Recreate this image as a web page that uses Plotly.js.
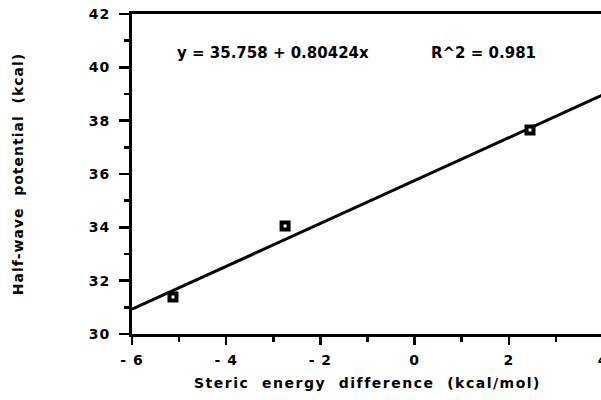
<!DOCTYPE html>
<html>
<head>
<meta charset="utf-8">
<script src="https://cdn.plot.ly/plotly-3.0.1.min.js"></script>
<style>
  html, body { margin: 0; padding: 0; background: #fff; overflow: hidden; }
  #chart { width: 606px; height: 400px; }
  .xtick text, .ytick text { letter-spacing: 1px; }
  text.xtitle { letter-spacing: 1.5px; }
  text.ytitle { letter-spacing: 1px; }
</style>
</head>
<body>
<div id="chart"></div>
<script>
// Observed data points (steric energy difference vs half-wave potential)
const stericDiff = [-5.13, -2.75, 2.45];
const halfWave = [31.39, 34.05, 37.65];

// Fitted regression line endpoints (y = 35.758 + 0.80424x)
const fitX = [-6, 4];
const fitY = [30.93, 38.97];

// Tick labels
const xTickVals = [-6, -4, -2, 0, 2, 4];
const xTickText = ["- 6", "- 4", "- 2", "0", "2", "4"];
const yTickVals = [30, 32, 34, 36, 38, 40, 42];
const yTickText = ["30", "32", "34", "36", "38", "40", "42"];

const NB = "\u00A0";
const GAP = NB + NB;
const eqText = "y" + NB + "=" + NB + "35.758" + NB + "+" + NB + "0.80424x";
const r2Text = "R^2" + NB + "=" + NB + "0.981";

const traces = [
  {
    x: fitX, y: fitY, mode: "lines", type: "scatter",
    line: { color: "#000", width: 3 }, hoverinfo: "skip", showlegend: false
  },
  {
    x: stericDiff, y: halfWave, mode: "markers", type: "scatter",
    marker: { symbol: "square", size: 7, color: "#fff", line: { color: "#000", width: 4 } },
    showlegend: false, cliponaxis: false
  }
];

const FAM = "DejaVu Sans, Liberation Sans, Arial, sans-serif";
const tickFont = { family: FAM, size: 14, color: "#000", weight: "bold" };
const annFont = { family: FAM, size: 15, color: "#000", weight: "bold" };
const titleFont = { family: FAM, size: 14, color: "#000", weight: "bold" };

const layout = {
  width: 606, height: 400,
  margin: { l: 132, r: 3, t: 14, b: 66 },
  paper_bgcolor: "#fff", plot_bgcolor: "#fff",
  showlegend: false,
  xaxis: {
    range: [-6, 4], showgrid: false, zeroline: false,
    showline: true, linewidth: 3, linecolor: "#000", mirror: true,
    ticks: "outside", ticklen: 8, tickwidth: 2.5, tickcolor: "#000",
    tickvals: xTickVals, ticktext: xTickText, tickfont: tickFont,
    ticklabeloverflow: "allow", ticklabelstandoff: 3,
    minor: { dtick: 1, ticks: "outside", ticklen: 5, tickwidth: 2.5, tickcolor: "#000", showgrid: false },
    title: { text: "Steric" + GAP + "energy" + GAP + "difference" + GAP + "(kcal/mol)", font: titleFont, standoff: 12 }
  },
  yaxis: {
    range: [30, 42], showgrid: false, zeroline: false,
    showline: true, linewidth: 3, linecolor: "#000",
    ticks: "outside", ticklen: 10, tickwidth: 2.5, tickcolor: "#000",
    tickvals: yTickVals, ticktext: yTickText, tickfont: tickFont,
    ticklabelstandoff: 6,
    minor: { dtick: 1, ticks: "outside", ticklen: 5, tickwidth: 2.5, tickcolor: "#000", showgrid: false },
    title: { text: "Half-wave" + GAP + "potential" + GAP + "(kcal)", font: titleFont, standoff: 62 }
  },
  annotations: [
    { xref: "paper", yref: "paper", x: 0.091, y: 0.877, xanchor: "left", yanchor: "middle",
      text: eqText, showarrow: false, font: annFont },
    { xref: "paper", yref: "paper", x: 0.63, y: 0.877, xanchor: "left", yanchor: "middle",
      text: r2Text, showarrow: false, font: annFont }
  ]
};

Plotly.newPlot("chart", traces, layout, { staticPlot: true, displayModeBar: false });
</script>
</body>
</html>
